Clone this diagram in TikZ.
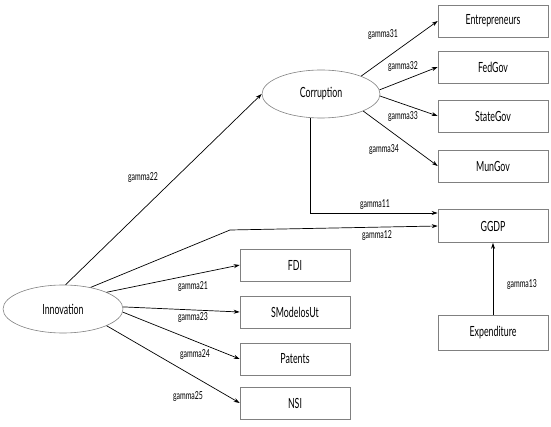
\documentclass[tikz,border=0pt]{standalone}
\usepackage{fontspec}
\setmainfont[FakeStretch=0.63]{Lato}
\usetikzlibrary{arrows.meta,shapes.geometric}

\begin{document}
\begin{tikzpicture}[>={Stealth[length=6pt,width=4pt]}, x=1pt, y=-1pt,
    var/.style={draw=gray, line width=0.6pt, minimum width=110pt, minimum height=32pt,
        inner sep=0pt, font=\fontsize{14}{14}\selectfont},
    latent/.style={ellipse, draw=gray, line width=0.6pt, minimum width=120pt,
        minimum height=48pt, inner sep=0pt, font=\fontsize{14}{14}\selectfont},
    path/.style={->, line width=0.7pt},
    coef/.style={font=\fontsize{11}{11}\selectfont, inner sep=1pt}]

    \useasboundingbox (0,0) rectangle (551,427);

    % --- latent variables ---
    \node[latent] (inno) at (63,309) {Innovation};
    \node[latent, minimum width=118pt] (corr) at (321,94) {Corruption};

    % --- indicators of corruption ---
    \node[var] (entre)    at (493,21)  {Entrepreneurs};
    \node[var] (fedgov)   at (493,67)  {FedGov};
    \node[var] (stategov) at (493,116) {StateGov};
    \node[var] (mungov)   at (493,166) {MunGov};

    % --- growth and expenditure ---
    \node[var, minimum height=33pt] (ggdp)   at (493,226)   {GGDP};
    \node[var, minimum height=35pt] (expend) at (493,332.5) {Expenditure};

    % --- indicators of innovation ---
    \node[var] (fdi)     at (295,265) {FDI};
    \node[var] (smod)    at (295,312) {SModelosUt};
    \node[var] (patents) at (295,359) {Patents};
    \node[var] (nsi)     at (295,403) {NSI};

    % --- paths from corruption ---
    \draw[path] (corr.24)  -- (entre.west);
    \draw[path] (corr.4)   -- (fedgov.west);
    \draw[path] (corr.-2)  -- (stategov.west);
    \draw[path] (corr.-22) -- (mungov.west);
    \draw[path] (corr.-115) |- ([yshift=13pt]ggdp.west);

    % --- paths from innovation ---
    \coordinate (bend) at (230,230);
    \draw[path] (inno.84) -- (corr.west);
    \draw[path] (inno.38) -- (bend) -- (ggdp.west);
    \draw[path] (inno.21) -- (fdi.west);
    \draw[path] (inno.2)  -- (smod.west);
    \draw[path] (inno.-3) -- (patents.west);
    \draw[path] (inno.-21) -- (nsi.west);

    % --- expenditure ---
    \draw[path] (expend.north) -- (ggdp.south);

    % --- coefficients ---
    \node[coef] (g31) at (383,35)  {gamma31};
    \node[coef] (g32) at (403,67)  {gamma32};
    \node[coef] (g33) at (403,117) {gamma33};
    \node[coef] (g34) at (384,150) {gamma34};
    \node[coef] (g22) at (143,178) {gamma22};
    \node[coef] (g11) at (375,205) {gamma11};
    \node[coef] (g12) at (377,236) {gamma12};
    \node[coef] (g13) at (522,285) {gamma13};
    \node[coef] (g21) at (193,287) {gamma21};
    \node[coef] (g23) at (193,318) {gamma23};
    \node[coef] (g24) at (195,355) {gamma24};
    \node[coef] (g25) at (188,397) {gamma25};

\end{tikzpicture}
\end{document}
